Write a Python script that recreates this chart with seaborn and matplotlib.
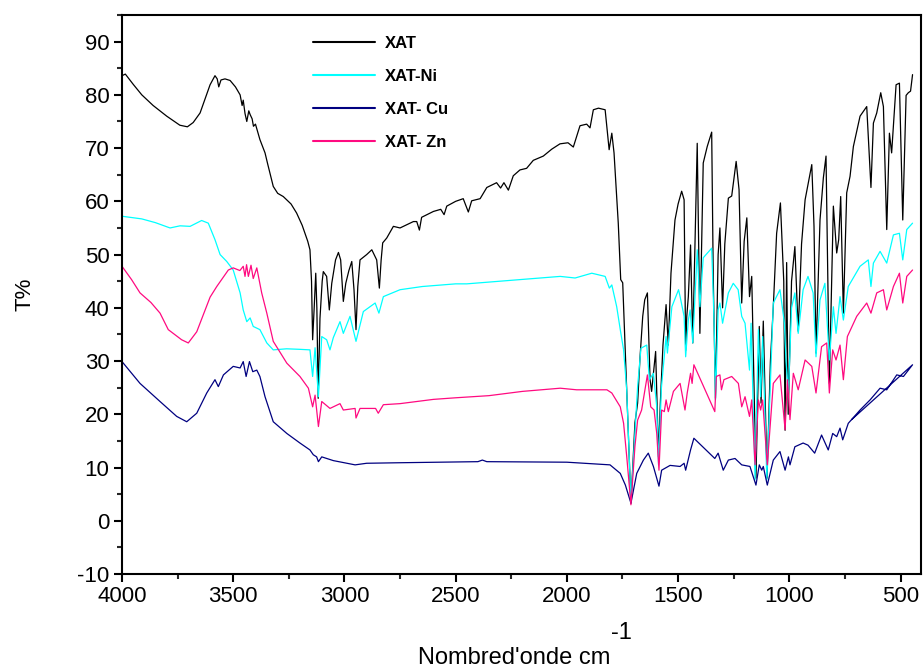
import numpy as np
import pandas as pd
import seaborn as sns
import matplotlib
matplotlib.use("Agg")
import matplotlib.pyplot as plt
from matplotlib.ticker import MultipleLocator

# ---------------- data ----------------
series_names = ["XAT", "XAT-Ni", "XAT- Cu", "XAT- Zn"]
series_colors = ["#000000", "#00FFFF", "#000080", "#FF0A80"]

xat_wn = [4000, 3985, 3950, 3911, 3860, 3799, 3740, 3706, 3680, 3649, 3604, 3582, 3572, 3565, 3555, 3537,
          3514, 3490, 3469, 3460, 3455, 3447, 3439, 3430, 3424, 3415, 3409, 3400, 3380, 3365, 3357, 3345,
          3320, 3300, 3275, 3240, 3215, 3190, 3165, 3155, 3148, 3143, 3136, 3129, 3124, 3118, 3110, 3100,
          3095, 3080, 3068, 3057, 3040, 3027, 3017, 3005, 2994, 2980, 2967, 2957, 2948, 2940, 2930, 2900,
          2877, 2855, 2843, 2835, 2828, 2810, 2780, 2750, 2720, 2690, 2675, 2663, 2653, 2600, 2567, 2552,
          2540, 2500, 2466, 2443, 2428, 2390, 2360, 2316, 2298, 2283, 2263, 2241, 2211, 2181, 2151, 2106,
          2068, 2031, 1995, 1971, 1941, 1911, 1896, 1881, 1858, 1828, 1810, 1798, 1788, 1769, 1758, 1749,
          1731, 1712, 1694, 1682, 1671, 1659, 1650, 1638, 1626, 1619, 1601, 1588, 1580, 1568, 1554, 1544,
          1532, 1514, 1500, 1484, 1473, 1466, 1461, 1454, 1444, 1434, 1414, 1402, 1387, 1369, 1349, 1342,
          1332, 1320, 1312, 1300, 1290, 1274, 1259, 1239, 1226, 1214, 1203, 1191, 1179, 1169, 1157, 1150,
          1135, 1127, 1117, 1100, 1085, 1072, 1057, 1040, 1025, 1019, 1012, 1005, 990, 975, 960, 945,
          929, 899, 889, 880, 862, 847, 835, 820, 802, 787, 778, 769, 757, 742, 727, 712,
          682, 652, 633, 622, 607, 589, 577, 562, 550, 540, 520, 505, 490, 475, 465, 455, 446]
xat_t = [83.6, 83.9, 82.0, 80.0, 78.0, 76.0, 74.3, 74.0, 74.8, 76.6, 81.9, 83.6, 83.0, 81.5, 82.8, 83.0,
         82.7, 81.5, 80.0, 78.0, 79.0, 76.5, 75.0, 77.0, 76.3, 75.5, 74.1, 74.5, 71.6, 70.0, 69.1, 67.0,
         62.8, 61.5, 60.9, 59.5, 57.8, 55.5, 52.5, 50.9, 45.0, 34.0, 40.0, 46.5, 40.0, 23.0, 38.0, 45.0,
         46.8, 45.9, 39.6, 44.6, 49.0, 50.4, 49.0, 41.2, 44.6, 47.0, 48.7, 43.4, 35.9, 44.0, 49.0, 50.0,
         50.9, 49.0, 43.7, 49.0, 52.2, 53.1, 55.3, 55.0, 55.6, 56.2, 56.2, 54.6, 57.0, 58.1, 58.5, 57.5,
         59.1, 60.0, 60.5, 58.0, 60.1, 60.5, 62.6, 63.5, 62.5, 63.5, 62.1, 64.8, 65.9, 66.2, 67.7, 68.5,
         69.8, 70.8, 71.0, 70.2, 74.2, 74.5, 73.8, 77.2, 77.5, 77.2, 69.7, 72.8, 69.1, 55.9, 45.3, 44.7,
         24.6, 3.3, 18.4, 22.1, 30.8, 38.4, 41.5, 42.8, 26.5, 24.3, 31.8, 12.0, 22.0, 33.0, 40.6, 33.0,
         46.5, 56.5, 59.5, 61.9, 60.3, 32.0, 38.4, 42.1, 51.8, 33.4, 70.9, 35.2, 67.2, 70.3, 73.0, 45.9,
         23.0, 50.0, 55.0, 40.0, 52.0, 60.6, 61.0, 67.5, 62.2, 40.9, 52.5, 56.9, 42.1, 45.9, 21.4, 8.0,
         36.5, 22.1, 37.5, 8.0, 30.0, 40.2, 54.0, 59.7, 45.0, 17.0, 48.5, 20.0, 45.0, 51.5, 35.6, 52.0,
         60.3, 66.9, 55.3, 31.5, 56.5, 64.4, 68.5, 25.8, 59.1, 50.3, 52.8, 60.9, 39.0, 61.6, 64.7, 70.3,
         76.0, 77.8, 62.6, 74.7, 76.6, 80.4, 77.8, 54.7, 72.8, 69.1, 81.9, 82.2, 56.5, 79.9, 80.4, 80.7, 83.8]

ni_wn = [4000, 3911, 3850, 3784, 3739, 3694, 3642, 3612, 3582, 3559, 3529, 3500, 3469, 3455, 3439, 3424,
         3410, 3380, 3349, 3320, 3260, 3200, 3155, 3143, 3132, 3117, 3102, 3080, 3065, 3050, 3020, 3005,
         2975, 2948, 2915, 2862, 2845, 2825, 2750, 2650, 2500, 2450, 2300, 2150, 2030, 1963, 1888, 1828,
         1809, 1798, 1776, 1760, 1745, 1731, 1712, 1682, 1667, 1641, 1629, 1611, 1596, 1588, 1575, 1554,
         1548, 1528, 1498, 1491, 1473, 1466, 1454, 1446, 1434, 1414, 1402, 1387, 1349, 1338, 1332, 1320,
         1312, 1300, 1274, 1252, 1230, 1214, 1199, 1179, 1172, 1154, 1139, 1129, 1120, 1101, 1072, 1042,
         1022, 1015, 1004, 990, 975, 960, 938, 916, 893, 880, 862, 840, 820, 802, 790, 772,
         757, 735, 682, 645, 633, 622, 592, 562, 532, 505, 490, 472, 446]
ni_t = [57.2, 56.7, 56.0, 55.0, 55.4, 55.3, 56.4, 55.9, 52.8, 50.0, 48.7, 47.1, 42.8, 39.6, 37.4, 38.1,
        36.5, 35.9, 33.4, 32.1, 32.3, 32.2, 32.1, 27.1, 32.5, 23.3, 34.6, 34.0, 32.1, 34.4, 37.4, 35.2,
        38.4, 33.7, 39.3, 40.9, 39.0, 42.1, 43.4, 44.0, 44.5, 44.5, 45.0, 45.5, 45.9, 45.6, 46.5, 45.9,
        43.7, 44.3, 40.2, 35.9, 32.1, 24.6, 3.5, 25.2, 32.4, 33.0, 26.5, 27.7, 21.4, 10.5, 25.0, 34.6,
        31.5, 40.2, 43.4, 42.1, 38.4, 30.8, 37.7, 39.6, 33.4, 50.9, 40.2, 49.4, 51.2, 37.1, 22.7, 39.6,
        40.9, 37.1, 42.8, 44.6, 43.4, 38.4, 37.1, 28.3, 37.1, 7.7, 35.9, 23.3, 34.6, 7.7, 40.9, 43.4,
        37.1, 30.0, 24.0, 40.0, 42.8, 35.2, 43.4, 45.9, 42.8, 30.8, 41.5, 44.6, 30.2, 40.2, 35.2, 42.1,
        37.7, 44.0, 47.8, 49.0, 44.0, 48.4, 50.6, 48.4, 53.7, 54.0, 49.0, 54.7, 55.9]

cu_wn = [4000, 3919, 3829, 3754, 3709, 3664, 3619, 3582, 3567, 3544, 3500, 3469, 3455, 3442, 3427, 3412,
         3394, 3380, 3357, 3320, 3259, 3200, 3155, 3140, 3125, 3117, 3102, 3050, 2952, 2900, 2750, 2400,
         2380, 2360, 2000, 1806, 1760, 1737, 1712, 1686, 1656, 1634, 1611, 1586, 1574, 1536, 1491, 1473,
         1466, 1444, 1429, 1335, 1320, 1297, 1274, 1244, 1214, 1177, 1150, 1135, 1124, 1117, 1099, 1072,
         1042, 1019, 1004, 997, 975, 938, 916, 886, 855, 825, 805, 787, 772, 760, 735, 682,
         637, 592, 562, 517, 487, 446, 720]
cu_t = [29.9, 25.8, 22.4, 19.6, 18.6, 20.2, 24.0, 26.5, 25.2, 27.4, 29.0, 28.7, 29.9, 27.1, 29.9, 28.0,
        28.3, 27.1, 23.3, 18.6, 16.4, 14.6, 13.3, 12.4, 12.0, 11.1, 12.0, 11.3, 10.5, 10.8, 10.9, 11.1,
        11.4, 11.1, 11.0, 10.5, 8.9, 6.7, 3.3, 8.9, 11.4, 12.7, 10.2, 6.5, 9.5, 10.4, 10.2, 10.8,
        9.5, 13.3, 15.5, 11.7, 12.7, 9.5, 11.4, 11.7, 10.5, 10.2, 6.7, 10.5, 9.5, 10.2, 6.7, 11.4,
        13.0, 9.5, 12.0, 10.5, 13.9, 14.6, 14.2, 12.7, 16.1, 13.3, 16.4, 15.8, 17.4, 15.2, 18.3, 20.8,
        22.7, 24.9, 24.6, 27.4, 27.1, 29.3, 19.0]

zn_wn = [4000, 3957, 3919, 3870, 3829, 3792, 3732, 3702, 3664, 3604, 3574, 3522, 3500, 3470, 3455, 3447,
         3440, 3432, 3420, 3410, 3394, 3372, 3349, 3320, 3259, 3200, 3162, 3143, 3132, 3117, 3102, 3065,
         3020, 3005, 2952, 2948, 2930, 2860, 2848, 2825, 2750, 2600, 2500, 2350, 2200, 2030, 1956, 1820,
         1798, 1760, 1745, 1731, 1712, 1694, 1682, 1664, 1638, 1623, 1608, 1596, 1586, 1574, 1562, 1554,
         1544, 1521, 1491, 1469, 1459, 1444, 1437, 1429, 1335, 1328, 1312, 1305, 1294, 1259, 1229, 1214,
         1199, 1179, 1169, 1154, 1139, 1129, 1120, 1099, 1072, 1042, 1019, 1008, 997, 982, 960, 929,
         899, 880, 855, 832, 820, 805, 790, 772, 757, 739, 697, 652, 633, 607, 577, 562,
         532, 505, 490, 472, 446]
zn_t = [47.8, 45.3, 42.8, 41.0, 39.0, 35.9, 34.0, 33.4, 35.5, 42.0, 44.0, 47.1, 47.5, 47.0, 47.8, 45.9,
        48.1, 45.9, 48.0, 45.5, 47.5, 42.8, 39.0, 33.7, 29.6, 27.1, 24.9, 21.4, 23.6, 17.7, 22.4, 21.1,
        22.0, 20.8, 21.1, 19.3, 21.1, 21.1, 20.2, 21.8, 22.0, 22.8, 23.1, 23.5, 24.3, 24.9, 24.6, 24.6,
        24.0, 21.4, 18.3, 12.1, 3.0, 14.0, 18.9, 20.8, 27.4, 21.4, 20.8, 16.4, 9.5, 20.8, 20.5, 22.7,
        20.5, 24.3, 25.8, 20.8, 24.0, 27.7, 25.8, 29.3, 20.5, 27.1, 27.4, 24.6, 26.5, 27.1, 25.8, 21.4,
        23.3, 19.6, 22.7, 10.5, 22.7, 20.8, 22.7, 10.5, 25.8, 27.4, 17.1, 26.5, 19.0, 27.7, 24.6, 30.2,
        29.0, 24.0, 32.7, 33.4, 24.0, 32.1, 30.2, 33.0, 26.5, 34.6, 38.4, 40.9, 39.0, 42.8, 43.4, 39.6,
        44.0, 46.5, 40.9, 45.9, 47.1]

x_ticks = [4000, 3500, 3000, 2500, 2000, 1500, 1000, 500]
y_ticks = [-10, 0, 10, 20, 30, 40, 50, 60, 70, 80, 90]

# ---------------- figure ----------------
sns.set_theme(style="ticks")
plt.rcParams["font.family"] = ["Liberation Sans", "DejaVu Sans"]
plt.rcParams["axes.unicode_minus"] = False
plt.rcParams["text.color"] = "black"

fig = plt.figure(figsize=(9.23, 6.68), dpi=100)
ax = fig.add_axes([122 / 923, 1 - 574 / 668, (921 - 122) / 923, (574 - 15) / 668])

all_series = [(xat_wn, xat_t), (ni_wn, ni_t), (cu_wn, cu_t), (zn_wn, zn_t)]
for (wn, t), name, col in zip(all_series, series_names, series_colors):
    df = pd.DataFrame({"wn": wn, "T": t})
    sns.lineplot(data=df, x="wn", y="T", sort=False, estimator=None, color=col,
                 linewidth=0.9, label=name, ax=ax)

ax.set_xlim(4000, 408)
ax.set_ylim(-10, 95)
ax.set_xticks(x_ticks)
ax.set_yticks(y_ticks)
ax.xaxis.set_minor_locator(MultipleLocator(250))
ax.yaxis.set_minor_locator(MultipleLocator(5))

for s in ax.spines.values():
    s.set_linewidth(1.5)
    s.set_color("black")

ax.tick_params(axis="both", which="major", direction="out", length=6, width=1.5,
               labelsize=16, pad=3, colors="black")
ax.tick_params(axis="both", which="minor", direction="out", length=3.5, width=1.5)
ax.tick_params(top=False, right=False)

ax.set_xlabel("")
ax.set_ylabel("T%", fontsize=16, labelpad=30, color="black")

# x-axis title with a raised full-size exponent, as in the reference
fig.text(418 / 923, 1 - 664 / 668, "Nombred'onde cm", fontsize=17, va="baseline",
         ha="left", color="black")
fig.text(611 / 923, 1 - 639 / 668, "-1", fontsize=17, va="baseline", ha="left",
         color="black")

leg = ax.legend(loc="upper left", bbox_to_anchor=(0.239, 0.963), frameon=False,
                prop={"weight": "bold", "size": 12}, handlelength=3.7, handletextpad=0.6,
                labelspacing=1.08, borderpad=0, borderaxespad=0)
for line in leg.get_lines():
    line.set_linewidth(1.5)
for txt in leg.get_texts():
    txt.set_color("black")

fig.savefig("out.png", dpi=100)
